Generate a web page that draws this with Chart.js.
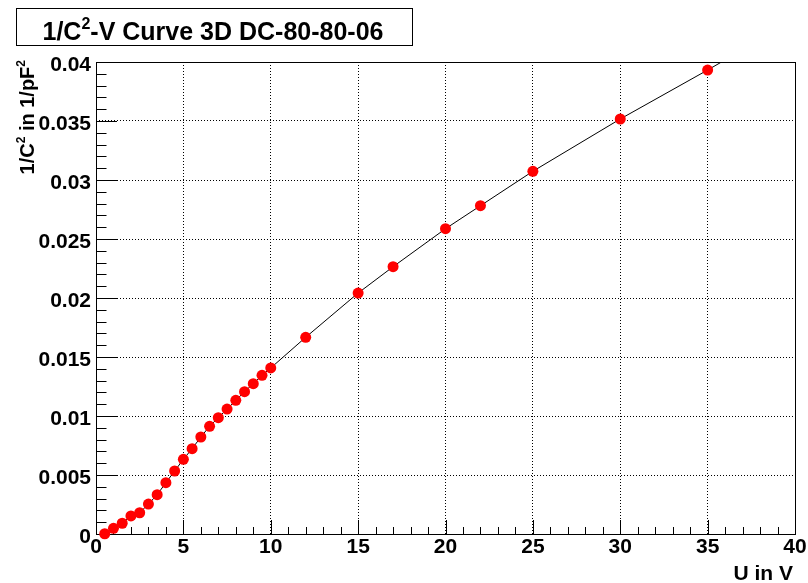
<!DOCTYPE html>
<html>
<head>
<meta charset="utf-8">
<script src="https://cdn.jsdelivr.net/npm/chart.js@4.4.1/dist/chart.umd.min.js"></script>
<style>
  body { margin: 0; background: #fff; }
</style>
</head>
<body>
<canvas id="cvPlot" width="808" height="583"></canvas>
<script>
// bias voltage (V) and measured 1/C^2 (1/pF^2)
const voltage = [0.5, 1, 1.5, 2, 2.5, 3, 3.5, 4, 4.5, 5, 5.5, 6, 6.5, 7, 7.5, 8, 8.5, 9, 9.5, 10,
    12, 15, 17, 20, 22, 25, 30, 35, 40];
const invCap2 = [0.00002, 0.00048, 0.00091, 0.00153, 0.0018, 0.00254, 0.00333, 0.00435, 0.00534, 0.00633,
    0.00723, 0.00822, 0.00913, 0.00986, 0.01059, 0.01133, 0.01206, 0.01274, 0.01345, 0.01407,
    0.01667, 0.02042, 0.02265, 0.02587, 0.02782, 0.03074, 0.03517, 0.03932, 0.0436];

const xRange = [0, 40];
const yRange = [0, 0.04];
const xMajor = 5, xMinor = 1;
const yMajor = 0.005, yMinor = 0.001;

const titleParts = [['1/C', false], ['2', true], ['-V Curve 3D DC-80-80-06', false]];
const yTitleParts = [['1/C', false], ['2', true], [' in 1/pF', false], ['2', true]];
const xTitle = 'U in V';

const FONT = '"Liberation Sans", Arial, Helvetica, sans-serif';
Chart.defaults.font.family = FONT;

// draws text with raised small pieces (superscripts), returns width
function richText(ctx, parts, x, y, size, align) {
    let widths = parts.map(function (p) {
        ctx.font = 'bold ' + (p[1] ? Math.round(size * 0.62) : size) + 'px ' + FONT;
        return ctx.measureText(p[0]).width;
    });
    let total = widths.reduce(function (a, b) { return a + b; }, 0);
    let cx = x;
    if (align === 'center') cx = x - total / 2;
    if (align === 'right') cx = x - total;
    ctx.textAlign = 'left';
    ctx.textBaseline = 'alphabetic';
    parts.forEach(function (p, i) {
        ctx.font = 'bold ' + (p[1] ? Math.round(size * 0.62) : size) + 'px ' + FONT;
        ctx.fillText(p[0], cx, p[1] ? y - size * 0.45 : y);
        cx += widths[i];
    });
    return total;
}

const frameTicks = {
    id: 'frameTicks',
    beforeDatasetsDraw(chart) {
        const ctx = chart.ctx;
        const a = chart.chartArea;
        const xs = chart.scales.x, ys = chart.scales.y;
        ctx.save();
        ctx.strokeStyle = '#000';
        ctx.lineWidth = 1;
        ctx.beginPath();
        // small ticks along the bottom axis
        for (let i = 0; i <= Math.round((xRange[1] - xRange[0]) / xMinor); i++) {
            let v = xRange[0] + i * xMinor;
            let px = Math.round(xs.getPixelForValue(v)) + 0.5;
            let len = (i % Math.round(xMajor / xMinor) === 0) ? 14 : 7;
            ctx.moveTo(px, a.bottom);
            ctx.lineTo(px, a.bottom - len);
        }
        // and along the left axis
        for (let i = 0; i <= Math.round((yRange[1] - yRange[0]) / yMinor); i++) {
            let v = yRange[0] + i * yMinor;
            let py = Math.round(ys.getPixelForValue(v)) + 0.5;
            let len = (i % Math.round(yMajor / yMinor) === 0) ? 21 : 10.5;
            ctx.moveTo(a.left, py);
            ctx.lineTo(a.left + len, py);
        }
        ctx.stroke();
        ctx.strokeRect(a.left + 0.5, a.top + 0.5, a.right - a.left, a.bottom - a.top);
        ctx.restore();
    },
    afterDraw(chart) {
        const ctx = chart.ctx;
        const a = chart.chartArea;
        ctx.save();
        ctx.fillStyle = '#000';
        // title box
        ctx.strokeStyle = '#000';
        ctx.lineWidth = 1;
        ctx.strokeRect(16.5, 8.5, 396, 37);
        richText(ctx, titleParts, 213, 40, 25, 'center');
        // axis titles
        richText(ctx, [[xTitle, false]], a.right - 2, 580, 21, 'right');
        ctx.translate(34, a.top - 2);
        ctx.rotate(-Math.PI / 2);
        richText(ctx, yTitleParts, 0, 0, 20, 'right');
        ctx.restore();
    }
};

const cvChart = new Chart(document.getElementById('cvPlot'), {
    type: 'line',
    data: {
        datasets: [{
            data: voltage.map(function (v, i) { return {x: v, y: invCap2[i]}; }),
            borderColor: '#000',
            borderWidth: 1,
            backgroundColor: '#ff0000',
            pointBackgroundColor: '#ff0000',
            pointBorderColor: '#ff0000',
            pointBorderWidth: 0,
            pointRadius: 5.5,
            tension: 0,
            fill: false,
            clip: {left: 10, top: 0, right: 0, bottom: 10}
        }]
    },
    options: {
        responsive: false,
        animation: false,
        layout: {padding: {left: 0, top: 62, right: 13, bottom: 0}},
        plugins: {
            legend: {display: false},
            tooltip: {enabled: false},
            title: {display: false}
        },
        scales: {
            x: {
                type: 'linear',
                min: xRange[0],
                max: xRange[1],
                afterFit: function (scale) { scale.height = 49; },
                border: {display: false, dash: [1, 2]},
                grid: {color: '#000', lineWidth: 1, drawTicks: false},
                ticks: {
                    stepSize: xMajor,
                    maxRotation: 0,
                    padding: 1,
                    color: '#000',
                    font: {size: 21, weight: 'bold'}
                }
            },
            y: {
                type: 'linear',
                min: yRange[0],
                max: yRange[1],
                afterFit: function (scale) { scale.width = 96; },
                border: {display: false, dash: [1, 2]},
                grid: {color: '#000', lineWidth: 1, drawTicks: false},
                ticks: {
                    stepSize: yMajor,
                    padding: 5,
                    labelOffset: 3,
                    color: '#000',
                    font: {size: 21, weight: 'bold'},
                    callback: function (value) { return String(+value.toFixed(3)); }
                }
            }
        }
    },
    plugins: [frameTicks]
});
</script>
</body>
</html>
